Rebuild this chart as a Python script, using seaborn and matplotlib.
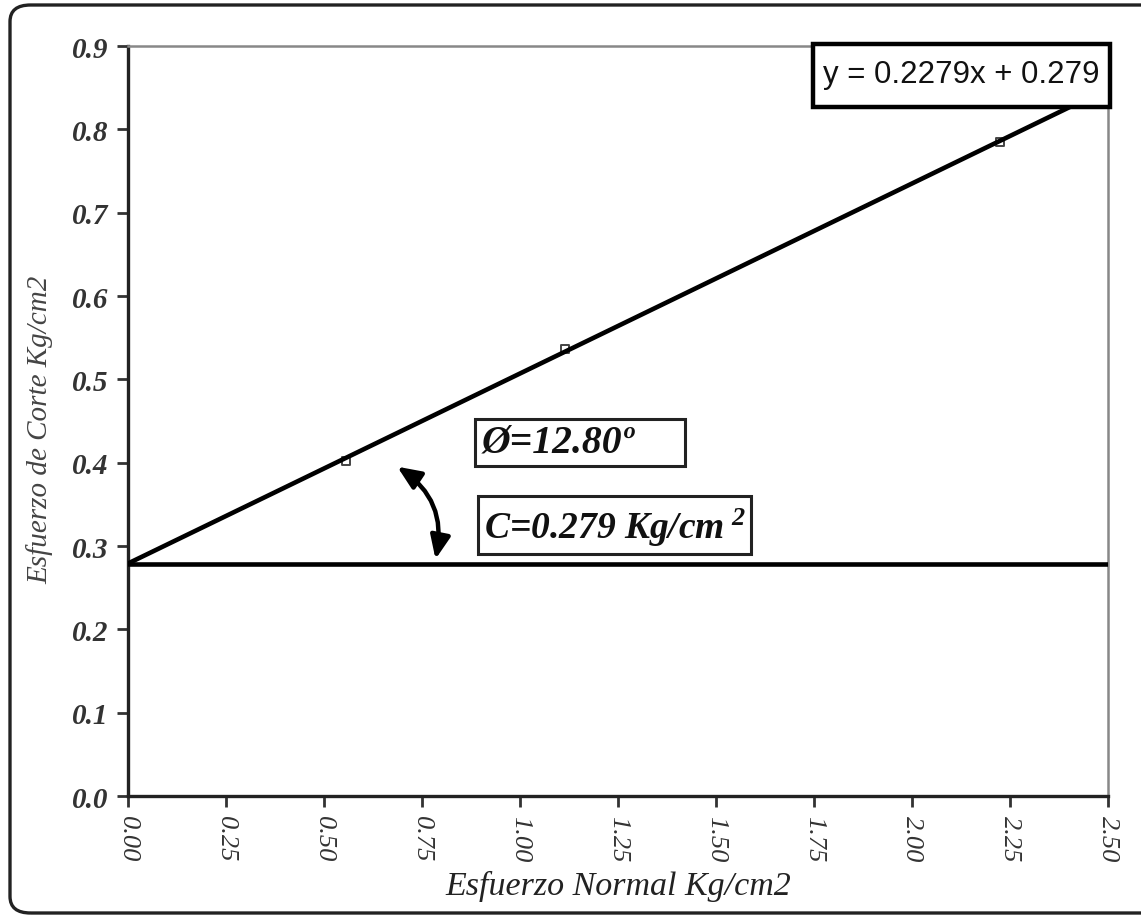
import matplotlib
matplotlib.use("Agg")
import matplotlib.pyplot as plt
import seaborn as sns
import pandas as pd
from matplotlib.patches import FancyBboxPatch, FancyArrowPatch, Rectangle

# ---- data ----
esfuerzo_normal = [0.555, 1.115, 2.225]          # Kg/cm2
esfuerzo_corte = [0.402, 0.537, 0.785]           # Kg/cm2
fit_x = [0.0, 2.5]
fit_y = [0.279, 0.849]                           # y = 0.2279x + 0.279
cohesion_x = [0.0, 2.5]
cohesion_y = [0.279, 0.279]
x_ticks = [0.00, 0.25, 0.50, 0.75, 1.00, 1.25, 1.50, 1.75, 2.00, 2.25, 2.50]
y_ticks = [0.0, 0.1, 0.2, 0.3, 0.4, 0.5, 0.6, 0.7, 0.8, 0.9]
equation_text = "y = 0.2279x + 0.279"
phi_text = "Ø=12.80º"
c_text = r"C=0.279 Kg/cm$^{\ 2}$"
x_label = "Esfuerzo Normal Kg/cm2"
y_label = "Esfuerzo de Corte Kg/cm2"

sns.set_theme(style="white")
plt.rcParams["font.family"] = ["Liberation Serif", "DejaVu Serif"]
plt.rcParams["mathtext.fontset"] = "custom"
plt.rcParams["mathtext.rm"] = "Liberation Serif:italic:bold"
plt.rcParams["mathtext.it"] = "Liberation Serif:italic:bold"

W, H = 1141, 920
fig = plt.figure(figsize=(W / 100, H / 100), dpi=100)
fig.patch.set_facecolor("white")

# outer rounded frame (right edge runs off the canvas)
frame = FancyBboxPatch((10 / W, 6 / H), (1165 - 10) / W, (914 - 6) / H,
                       boxstyle="round,pad=0,rounding_size=0.018",
                       transform=fig.transFigure, fill=False,
                       edgecolor="#222222", linewidth=2.4, clip_on=False)
fig.patches.append(frame)

ax = fig.add_axes([128 / W, 1 - 797 / H, (1108 - 128) / W, (797 - 47) / H])
ax.set_facecolor("white")

df_pts = pd.DataFrame({"x": esfuerzo_normal, "y": esfuerzo_corte})
df_fit = pd.DataFrame({"x": fit_x, "y": fit_y})
df_c = pd.DataFrame({"x": cohesion_x, "y": cohesion_y})

sns.scatterplot(data=df_pts, x="x", y="y", ax=ax, marker="s", s=38,
                facecolor="white", edgecolor="#444444", linewidth=1.4, zorder=2)
sns.lineplot(data=df_fit, x="x", y="y", ax=ax, color="black", linewidth=3.3, zorder=3)
sns.lineplot(data=df_c, x="x", y="y", ax=ax, color="black", linewidth=3.3, zorder=3)

ax.set_xlim(0, 2.5)
ax.set_ylim(0, 0.9)
ax.set_xticks(x_ticks)
ax.set_yticks(y_ticks)
ax.set_xticklabels([f"{v:.2f}" for v in x_ticks], rotation=-90,
                   fontsize=19, fontstyle="italic", color="#333333")
ax.set_yticklabels([f"{v:.1f}" for v in y_ticks],
                   fontsize=21, fontstyle="italic", fontweight="bold", color="#333333")
ax.tick_params(axis="both", which="major", direction="out", length=8, width=2,
               color="#333333", bottom=True, left=True, pad=6)

for side in ["left", "bottom"]:
    ax.spines[side].set_color("#222222")
    ax.spines[side].set_linewidth(2.4)
for side in ["top", "right"]:
    ax.spines[side].set_color("#888888")
    ax.spines[side].set_linewidth(1.8)

ax.set_xlabel(x_label, fontsize=24.5, fontstyle="italic", color="#222222", labelpad=6)
ax.set_ylabel(y_label, fontsize=21, fontstyle="italic", color="#444444")
ax.yaxis.set_label_coords(-0.076, 0.489)

# equation box
ax.add_patch(Rectangle((1.747, 0.827), 2.505 - 1.747, 0.903 - 0.827,
                       facecolor="white", edgecolor="black", linewidth=3.2,
                       zorder=5, clip_on=False))
ax.text(2.126, 0.866, equation_text, fontsize=22.5, family="Liberation Sans",
        ha="center", va="center", color="#111111", zorder=6, clip_on=False)

# phi box
ax.add_patch(Rectangle((0.885, 0.396), 1.42 - 0.885, 0.4526 - 0.396,
                       facecolor="white", edgecolor="#222222", linewidth=2.2, zorder=5))
ax.text(0.902, 0.425, phi_text, fontsize=28.5, fontstyle="italic", fontweight="bold",
        ha="left", va="center", color="#111111", zorder=6)
# C box
ax.add_patch(Rectangle((0.893, 0.290), 1.59 - 0.893, 0.360 - 0.290,
                       facecolor="white", edgecolor="#222222", linewidth=2.2, zorder=5))
ax.text(0.908, 0.323, c_text, fontsize=27, fontstyle="italic", fontweight="bold",
        ha="left", va="center", color="#111111", zorder=6)

# curved double-headed arrow
arrow = FancyArrowPatch((0.681, 0.397), (0.783, 0.281),
                        connectionstyle="arc3,rad=-0.35",
                        arrowstyle="<|-|>,head_length=14,head_width=6",
                        color="black", linewidth=3.2, zorder=6)
ax.add_patch(arrow)

fig.savefig("out.png", dpi=100, facecolor="white")
